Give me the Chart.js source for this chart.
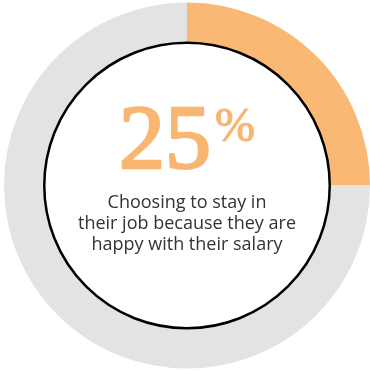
<!DOCTYPE html>
<html>
<head>
<meta charset="utf-8">
<script src="https://cdn.jsdelivr.net/npm/chart.js@4"></script>
<style>
  html, body { margin: 0; padding: 0; background: #fff; }
  #wrap { width: 370px; height: 371px; }
</style>
</head>
<body>
<div id="wrap"><canvas id="ring"></canvas></div>
<script>
const categories = ['Happy with their salary', 'Other reasons']
const shares = [25, 75]
const caption = ['Choosing to stay in', 'their job because they are', 'happy with their salary']
const sliceColors = ['#F9B874', '#E3E3E3']

// black outline on the inner edge + the big number and caption in the hole
const centerText = {
    id: 'centerText',
    afterDraw(chart) {
        const ctx = chart.ctx
        const arc = chart.getDatasetMeta(0).data[0]
        const cx = arc.x, cy = arc.y, r = arc.innerRadius

        ctx.save()
        ctx.beginPath()
        ctx.arc(cx, cy, r, 0, Math.PI * 2)
        ctx.lineWidth = 2.5
        ctx.strokeStyle = '#000'
        ctx.stroke()

        // "25" with a raised "%", stroked a little to get a semibold look
        const num = String(shares[0])
        ctx.fillStyle = ctx.strokeStyle = '#F8B672'
        ctx.lineJoin = 'round'
        ctx.textBaseline = 'alphabetic'
        ctx.font = '92px "Liberation Serif"'
        const numW = ctx.measureText(num).width
        ctx.font = '48px "Liberation Serif"'
        const pctW = ctx.measureText('%').width
        const left = cx - (numW + pctW + 4) / 2
        ctx.font = '92px "Liberation Serif"'
        ctx.textAlign = 'left'
        ctx.lineWidth = 2.6
        ctx.fillText(num, left, 168)
        ctx.strokeText(num, left, 168)
        ctx.font = '48px "Liberation Serif"'
        ctx.lineWidth = 1.2
        ctx.fillText('%', left + numW + 4, 141)
        ctx.strokeText('%', left + numW + 4, 141)

        ctx.fillStyle = '#333'
        ctx.font = '18px "Open Sans"'
        ctx.textAlign = 'center'
        caption.forEach((line, i) => ctx.fillText(line, cx, 208 + i * 21))
        ctx.restore()
    }
}

new Chart(document.getElementById('ring'), {
    type: 'doughnut',
    data: {
        labels: categories,
        datasets: [{
            data: shares,
            backgroundColor: sliceColors,
            borderWidth: 0
        }]
    },
    options: {
        responsive: true,
        maintainAspectRatio: false,
        animation: false,
        cutout: '78%',
        layout: { padding: { left: 4, top: 2, bottom: 2, right: 0 } },
        plugins: {
            legend: { display: false },
            tooltip: { enabled: false }
        }
    },
    plugins: [centerText]
})
</script>
</body>
</html>
